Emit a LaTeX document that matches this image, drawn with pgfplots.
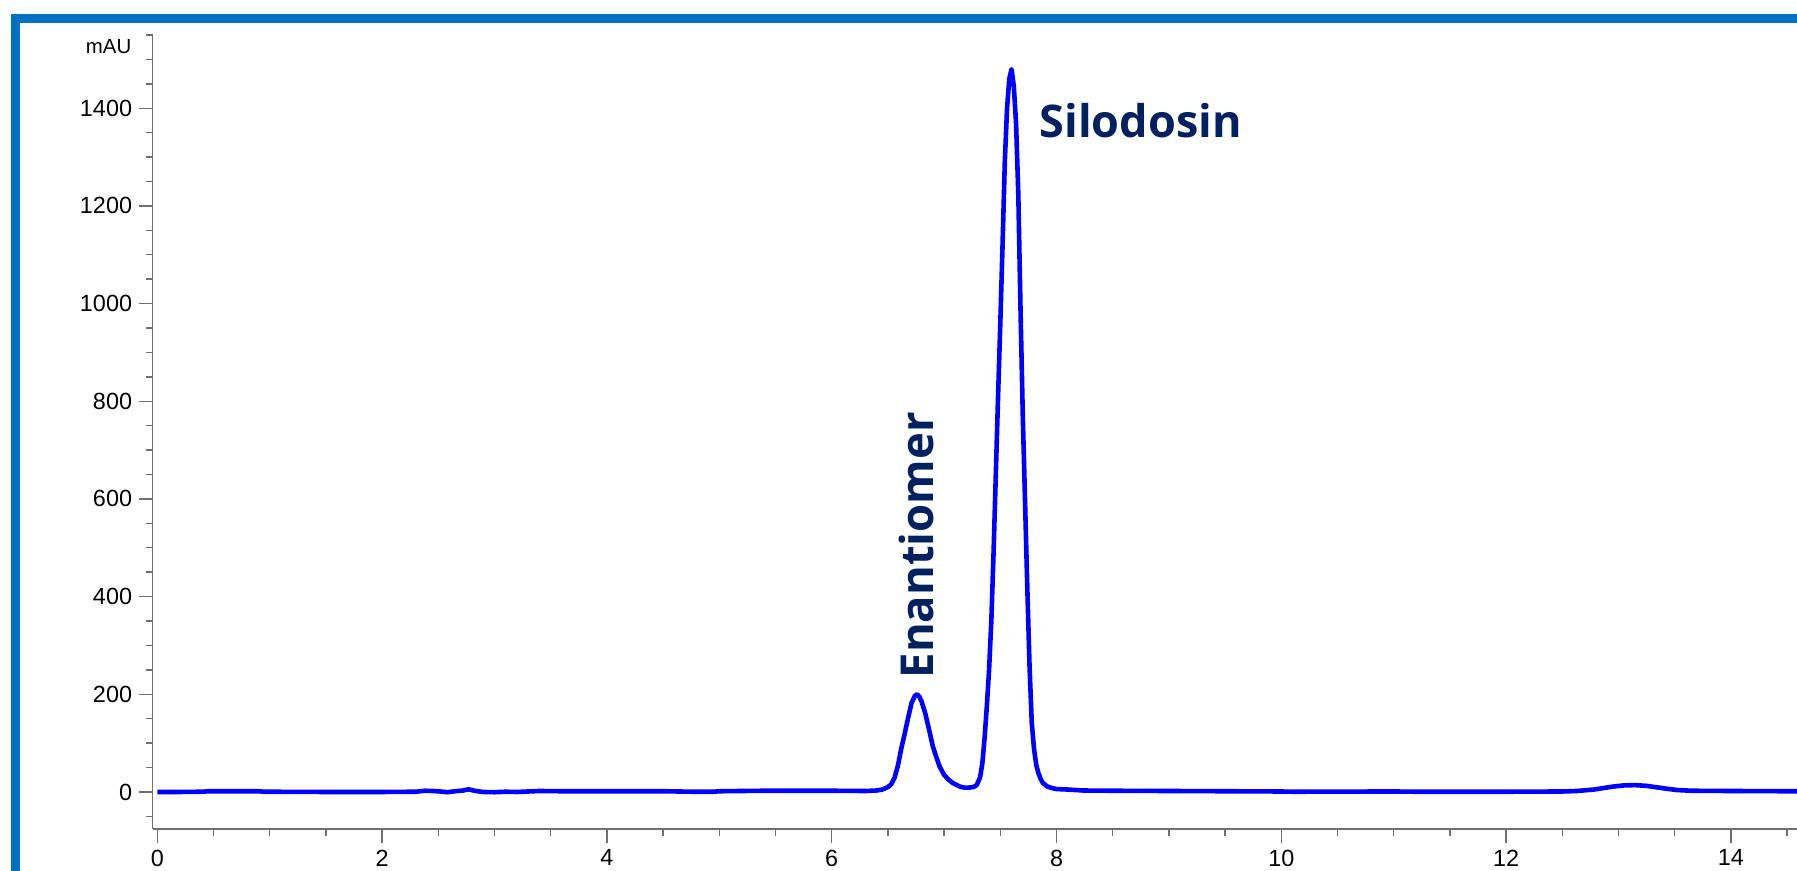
\documentclass[border=0pt]{standalone}
\usepackage{pgfplots}
\pgfplotsset{compat=1.18}
\usepackage{fontspec}
\setmainfont{Liberation Sans}
\newfontfamily\lblfont{Open Sans}
\definecolor{frameblue}{HTML}{0070C0}
\definecolor{navy}{HTML}{002060}
\definecolor{axgray}{HTML}{707070}

\pgfplotstableread{
x y
0.00 0
0.20 0
0.40 0.5
0.45 1.5
0.90 1.5
0.95 0.5
1.50 0
2.00 0
2.30 0.5
2.38 2.5
2.45 2
2.52 1
2.58 -0.5
2.65 1.5
2.72 3
2.77 5.5
2.82 2.5
2.90 0
3.00 -0.5
3.10 0.5
3.20 0
3.30 1
3.40 2
3.60 1.5
4.00 1.5
4.50 1.5
4.77 0.5
4.95 0.5
5.00 1.5
5.40 2.5
6.00 2.5
6.30 2
6.40 3
6.45 5
6.50 10
6.53 16
6.56 30
6.59 55
6.62 90
6.65 120
6.68 152
6.71 182
6.74 197
6.76 200
6.78 195
6.80 185
6.83 163
6.86 134
6.90 93
6.93 72
6.96 52
7.00 35
7.04 25
7.08 18
7.14 11
7.18 9
7.22 9
7.26 10
7.29 14
7.32 30
7.34 58
7.36 110
7.38 175
7.40 250
7.42 350
7.44 490
7.46 650
7.48 810
7.50 960
7.52 1120
7.54 1290
7.56 1400
7.58 1460
7.60 1480
7.62 1445
7.64 1370
7.66 1225
7.68 985
7.70 770
7.72 595
7.74 420
7.76 258
7.78 141
7.80 88
7.82 55
7.84 38
7.86 26
7.88 18
7.92 11
7.96 8
8.00 6
8.10 5
8.24 3
8.50 2.5
9.00 2
9.50 1.5
10.00 1
10.10 0.5
11.00 1
11.20 0.5
12.00 0.5
12.50 1
12.63 2
12.78 5
12.95 11
13.05 13.5
13.15 14
13.25 12.5
13.34 9.5
13.45 6
13.52 4
13.65 2.5
14.00 2
14.50 1.5
14.70 1.5
}\chrom

\begin{document}
\begin{tikzpicture}
\useasboundingbox (0,0) rectangle (898.5pt,435.5pt);
\draw[frameblue, line width=4.4pt] (7.75pt,426.35pt) -- (950pt,426.35pt) -- (950pt,-50pt) -- (7.75pt,-50pt) -- cycle;
\node[anchor=base east, font=\fontsize{10.2}{12}\selectfont, inner sep=0pt] at (65.85pt,408.5pt) {mAU};
\begin{axis}[
  at={(76.35pt,21pt)}, anchor=south west,
  scale only axis, width=845.3pt, height=397.5pt,
  xmin=-0.041, xmax=15, ymin=-75.8, ymax=1552,
  axis x line*=bottom, axis y line*=left,
  axis line style={axgray, line width=0.7pt},
  xtick={0,2,...,14}, minor xtick={0,0.5,...,15},
  ytick={0,200,...,1400}, minor ytick={-50,0,...,1550},
  tick align=outside,
  major tick length=6.8pt, minor tick length=3.6pt,
  every tick/.style={axgray, line width=0.7pt},
  tick label style={font=\fontsize{11.7}{14}\selectfont, black},
  /pgf/number format/assume math mode=true,
  /pgf/number format/1000 sep={},
  clip=true,
]
\addplot[color={rgb,255:red,0;green,0;blue,255}, line width=2.3pt, line join=round] table[x=x,y=y] {\chrom};
\node[anchor=base west, inner sep=0pt, text=navy, font=\lblfont\bfseries\fontsize{22.5}{27}\selectfont] at (axis cs:7.847,1341) {Silodosin};
\node[anchor=base west, rotate=90, inner sep=0pt, text=navy, font=\lblfont\bfseries\fontsize{22.7}{27}\selectfont] at (axis cs:6.904,232) {Enantiomer};
\end{axis}
\end{tikzpicture}
\end{document}
